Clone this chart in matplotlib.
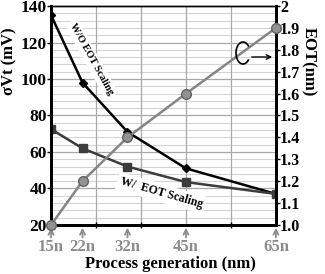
import numpy as np
import matplotlib
matplotlib.use('Agg')
import matplotlib.pyplot as plt

plt.rcParams['font.family'] = ['Liberation Serif', 'DejaVu Serif']
plt.rcParams['font.weight'] = 'bold'

# data
gen_nm = [15, 22, 32, 45, 65]
gen_labels = ['15n', '22n', '32n', '45n', '65n']
sigma_wo = [135, 98, 71, 51, 37]      # W/O EOT scaling (mV)
sigma_w = [72.5, 62, 52, 43.5, 37]    # W/ EOT scaling (mV)
eot = [1.0, 1.2, 1.4, 1.6, 1.9]       # EOT (nm)
left_ticks = [20, 40, 60, 80, 100, 120, 140]
right_ticks = [1.0, 1.1, 1.2, 1.3, 1.4, 1.5, 1.6, 1.7, 1.8, 1.9, 2.0]
right_labels = ['1.0', '1.1', '1.2', '1.3', '1.4', '1.5', '1.6', '1.7', '1.8', '1.9', '2']

fig = plt.figure(figsize=(3.25, 2.74), dpi=100)
ax = fig.add_axes([0.157, 0.179, 0.692, 0.799])
ax2 = ax.twinx()

ax.set_xlim(15, 65)
ax.set_ylim(20, 140)
ax2.set_ylim(1.0, 2.0)

# grid
for y in np.arange(24, 140, 4):
    if y % 20:
        ax.axhline(y, color='#d4d4d4', lw=0.8, zorder=0)
for y in [40, 60, 80, 100, 120]:
    ax.axhline(y, color='#a8a8a8', lw=0.9, zorder=0)
for x in [25, 35, 45, 55]:
    ax.axvline(x, color='#a8a8a8', lw=0.9, zorder=0)

ax.plot(gen_nm, sigma_wo, color='black', lw=1.8, marker='D', ms=4.5, zorder=4)
ax.plot(gen_nm, sigma_w, color='#3c3c3c', lw=1.8, marker='s', ms=5.5, zorder=4)
ax2.plot(gen_nm, eot, color='#858585', lw=1.8, marker='o', ms=7,
         mfc='#929292', mec='#626262', mew=1.0, zorder=3, clip_on=False)

ax.set_yticks(left_ticks)
ax.set_yticklabels([str(v) for v in left_ticks], fontweight='bold')
ax.tick_params(axis='y', labelsize=12.5, length=3, width=1, pad=0)
ax2.set_yticks(right_ticks)
ax2.set_yticklabels(right_labels, fontweight='bold')
ax2.tick_params(axis='y', labelsize=11.5, length=3, width=1, pad=0)
ax.set_xticks(gen_nm)
ax.set_xticklabels(gen_labels, color='#8c8c8c', fontsize=12, fontweight='bold')
ax.tick_params(axis='x', length=0, pad=10)
ax.set_xticks([25, 35, 45, 55], minor=True)
ax.tick_params(axis='x', which='minor', length=4, direction='inout', width=1)

for x in gen_nm:
    ax.annotate('', xy=(x, 0.0), xytext=(x, -0.07),
                xycoords=('data', 'axes fraction'),
                arrowprops=dict(arrowstyle='->', color='#8c8c8c', lw=1.3,
                                mutation_scale=9), annotation_clip=False)

for side in ['left', 'bottom', 'right']:
    ax.spines[side].set_linewidth(2)
    ax2.spines[side].set_linewidth(2)
ax.spines['top'].set_linewidth(1)
ax2.spines['top'].set_linewidth(1)

ax.set_ylabel('σVt (mV)', fontsize=12, fontweight='bold')
ax.yaxis.set_label_coords(-0.148, 0.75)
ax2.set_ylabel('EOT(nm)', fontsize=12, fontweight='bold', rotation=-90)
ax2.yaxis.set_label_coords(1.18, 0.745)
ax.set_xlabel('Process generation (nm)', fontsize=12, fontweight='bold', labelpad=0)
ax.xaxis.set_label_coords(0.53, -0.14)

box = dict(boxstyle='square,pad=0.25', fc='white', ec='none')
ax.text(24.0, 111, 'W/O EOT Scaling', fontsize=7.5, fontweight='bold', rotation=-61,
        ha='center', va='center', bbox=box, zorder=5)
ax.text(39.5, 37.5, 'W/  EOT Scaling', fontsize=8.5, fontweight='bold', rotation=-16,
        ha='center', va='center', bbox=box, zorder=5)

# curled marker pointing to the right axis (figure pixel positions)
t = np.radians(np.linspace(40, 320, 60))
ex = (243 + 7 * np.cos(t)) / 325
ey = 1 - (53 - 11 * np.sin(t)) / 274
fig.add_artist(plt.Line2D(ex, ey, color='black', lw=1.2, transform=fig.transFigure))
ax2.annotate('', xy=(275 / 325, 1 - 57 / 274), xytext=(249 / 325, 1 - 57 / 274),
             xycoords='figure fraction', textcoords='figure fraction',
             arrowprops=dict(arrowstyle='->', color='black', lw=1.0,
                             mutation_scale=8))

fig.savefig('out.png', dpi=100)
